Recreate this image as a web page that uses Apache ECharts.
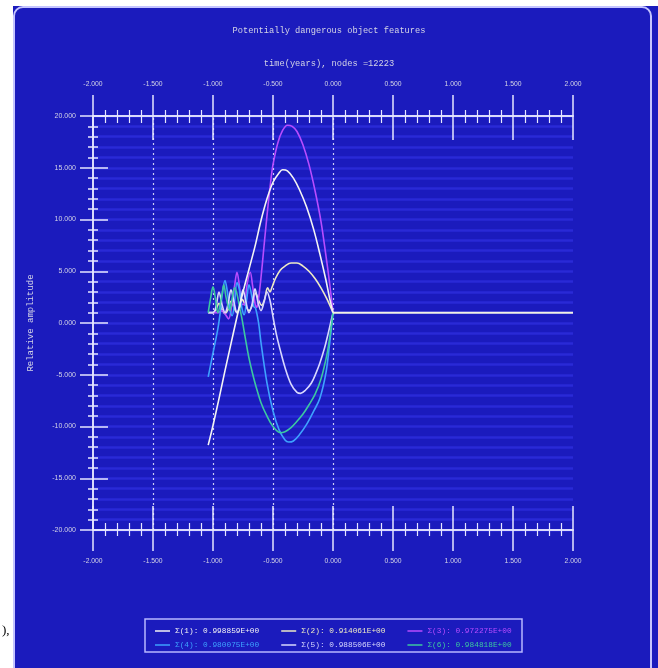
<!DOCTYPE html>
<html>
<head>
<meta charset="utf-8">
<script src="https://cdn.jsdelivr.net/npm/echarts@6/dist/echarts.min.js"></script>
<style>
  html, body { margin: 0; padding: 0; background: #ffffff; }
  #chart { width: 658px; height: 668px; }
</style>
</head>
<body>
<div id="chart"></div>
<script>
// legend labels, one per curve
const legendNames = [
  'Σ(1): 0.998859E+00',
  'Σ(2): 0.914061E+00',
  'Σ(3): 0.972275E+00',
  'Σ(4): 0.980075E+00',
  'Σ(5): 0.988506E+00',
  'Σ(6): 0.984818E+00',
];
const lineColors = ['#f4f4f4', '#eeeac6', '#b84cff', '#3ea2ff', '#d8d8ff', '#3cc8a0'];

// [time, amplitude]
const sigma1 = [[-1.04,-11.8],[-1.0,-9.9],[-0.95,-7.3],[-0.9,-4.6],[-0.85,-2.0],[-0.8,0.6],[-0.75,3.0],[-0.7,5.2],[-0.65,7.4],[-0.6,9.9],[-0.55,12.0],[-0.5,13.6],[-0.45,14.5],[-0.42,14.8],[-0.38,14.7],[-0.33,14.0],[-0.28,12.9],[-0.22,11.2],[-0.16,9.0],[-0.11,6.7],[-0.06,4.2],[-0.03,2.5],[0,1.0]];
const sigma2 = [[-1.04,1.0],[-1.0,1.0],[-0.975,1.3],[-0.95,1.9],[-0.925,1.3],[-0.9,0.9],[-0.875,1.3],[-0.85,2.1],[-0.825,1.5],[-0.8,1.0],[-0.775,1.5],[-0.755,2.3],[-0.73,1.7],[-0.7,1.2],[-0.67,1.8],[-0.645,2.9],[-0.62,2.2],[-0.595,1.7],[-0.57,2.3],[-0.545,3.4],[-0.525,3.0],[-0.51,3.4],[-0.48,4.3],[-0.44,5.1],[-0.4,5.5],[-0.35,5.8],[-0.3,5.8],[-0.25,5.5],[-0.2,5.0],[-0.15,4.3],[-0.1,3.4],[-0.05,2.3],[0,1.0]];
const sigma3 = [[-1.0,1.0],[-0.96,1.0],[-0.92,1.2],[-0.895,0.8],[-0.87,0.4],[-0.845,1.6],[-0.82,3.6],[-0.8,4.9],[-0.78,3.6],[-0.76,1.8],[-0.74,1.8],[-0.715,3.8],[-0.69,4.9],[-0.67,3.6],[-0.65,1.9],[-0.635,1.5],[-0.62,2.4],[-0.6,4.4],[-0.58,6.8],[-0.56,9.2],[-0.54,11.5],[-0.52,13.6],[-0.5,15.3],[-0.46,17.4],[-0.42,18.6],[-0.38,19.1],[-0.34,19.0],[-0.3,18.5],[-0.25,17.2],[-0.2,15.3],[-0.15,12.8],[-0.1,9.8],[-0.06,6.6],[-0.03,4.0],[0,1.0]];
const sigma4 = [[-1.04,-5.2],[-1.0,-2.9],[-0.96,-0.6],[-0.94,1.0],[-0.92,3.0],[-0.9,4.1],[-0.88,3.0],[-0.86,1.4],[-0.84,0.7],[-0.82,2.1],[-0.8,3.9],[-0.78,3.2],[-0.76,1.5],[-0.74,0.8],[-0.72,2.2],[-0.7,3.7],[-0.68,2.8],[-0.66,1.6],[-0.645,1.4],[-0.62,0.0],[-0.6,-1.9],[-0.55,-5.8],[-0.5,-8.5],[-0.45,-10.3],[-0.4,-11.3],[-0.37,-11.5],[-0.33,-11.4],[-0.28,-10.8],[-0.22,-9.8],[-0.16,-8.5],[-0.11,-7.3],[-0.06,-4.9],[-0.03,-2.2],[0,1.0]];
const sigma5 = [[-1.04,1.0],[-1.0,1.0],[-0.975,1.6],[-0.95,3.0],[-0.925,1.8],[-0.9,1.0],[-0.875,1.8],[-0.85,3.2],[-0.825,2.0],[-0.8,1.0],[-0.775,1.8],[-0.75,3.2],[-0.725,2.0],[-0.7,1.0],[-0.675,1.8],[-0.65,3.3],[-0.625,2.0],[-0.6,1.2],[-0.575,2.0],[-0.55,3.0],[-0.525,2.2],[-0.5,0.6],[-0.47,-1.2],[-0.44,-2.6],[-0.4,-4.3],[-0.35,-5.9],[-0.3,-6.7],[-0.27,-6.8],[-0.23,-6.5],[-0.18,-5.8],[-0.14,-4.8],[-0.11,-3.9],[-0.07,-2.4],[-0.04,-1.0],[0,1.0]];
const sigma6 = [[-1.04,1.0],[-1.02,2.4],[-1.0,3.5],[-0.98,2.4],[-0.96,1.0],[-0.93,2.4],[-0.91,3.7],[-0.89,2.4],[-0.86,1.2],[-0.84,2.4],[-0.82,3.4],[-0.8,2.8],[-0.78,1.6],[-0.76,0.5],[-0.73,-1.5],[-0.7,-3.4],[-0.67,-4.9],[-0.64,-6.2],[-0.6,-7.7],[-0.55,-9.0],[-0.5,-10.0],[-0.44,-10.6],[-0.4,-10.5],[-0.35,-10.1],[-0.3,-9.5],[-0.25,-8.8],[-0.2,-7.9],[-0.15,-6.9],[-0.1,-5.4],[-0.05,-3.0],[-0.02,-0.8],[0,1.0]];
// all curves settle on 1 after t = 0
const tail = [[0,1.0],[2,1.0]];
// dotted time markers only drawn over the left half
const gridTimes = [-1.5, -1.0, -0.5, 0];

const curves = [sigma1, sigma2, sigma3, sigma4, sigma5, sigma6];

const axisColor = '#e6e6ff';
const labelColor = '#d4d4e6';
const stripeColor = '#2a2ad6';
const monoFont = 'Liberation Mono, DejaVu Sans Mono, monospace';
const narrowFont = 'Liberation Sans Narrow, Liberation Sans, sans-serif';

const chart = echarts.init(document.getElementById('chart'));

const makeX = (pos, inside, labels) => ({
  type: 'value', min: -2, max: 2, interval: 0.5, position: pos,
  axisLine: { onZero: false, lineStyle: { color: axisColor, width: 1.5 } },
  axisTick: { inside: inside, length: inside ? 24 : 21, lineStyle: { color: axisColor, width: 1.5 } },
  minorTick: { show: true, splitNumber: 5, length: inside ? 7 : 6, lineStyle: { color: axisColor, width: 1.2 } },
  axisLabel: {
    show: labels, margin: 28, color: labelColor, fontSize: 6.8, fontFamily: narrowFont,
    formatter: (v) => v.toFixed(3),
  },
  splitLine: { show: false },
});

const makeY = (inside, labels) => ({
  type: 'value', min: -20, max: 20, interval: 5, position: 'left',
  axisLine: { onZero: false, lineStyle: { color: axisColor, width: 1.5 } },
  axisTick: { inside: inside, length: inside ? 15 : 13, lineStyle: { color: axisColor, width: 1.5 } },
  minorTick: { show: true, splitNumber: 5, length: 5, lineStyle: { color: axisColor, width: 1.5 } },
  axisLabel: {
    show: labels, margin: 17, color: labelColor, fontSize: 7, fontFamily: narrowFont,
    formatter: (v) => v.toFixed(3),
  },
  splitLine: { show: labels, lineStyle: { color: stripeColor, width: 2.5 } },
  minorSplitLine: { show: labels, lineStyle: { color: stripeColor, width: 2.5 } },
  name: labels ? 'Relative amplitude' : '',
  nameLocation: 'middle', nameGap: 58,
  nameTextStyle: { color: labelColor, fontSize: 9, fontFamily: monoFont },
});

const legendItem = (i) => ({
  name: legendNames[i],
  textStyle: { color: lineColors[i] },
});

const option = {
  animation: false,
  backgroundColor: '#1b1bbd',
  title: [
    {
      text: 'Potentially dangerous object features',
      left: 'center', top: 21,
      textStyle: { color: labelColor, fontSize: 8.7, fontWeight: 'normal', fontFamily: monoFont },
    },
    {
      text: 'time(years), nodes =12223',
      left: 'center', top: 54,
      textStyle: { color: labelColor, fontSize: 8.7, fontWeight: 'normal', fontFamily: monoFont },
    },
  ],
  grid: { left: 93, right: 85, top: 116, bottom: 138 },
  xAxis: [makeX('top', false, true), makeX('top', true, false), makeX('bottom', false, true), makeX('bottom', true, false)],
  yAxis: [makeY(false, true), makeY(true, false)],
  legend: [
    {
      left: 155, top: 627, padding: 0, itemGap: 22, itemWidth: 15, itemHeight: 1.5, icon: 'rect',
      textStyle: { fontSize: 7.8, fontFamily: monoFont },
      data: [0, 1, 2].map(legendItem),
    },
    {
      left: 155, top: 641, padding: 0, itemGap: 22, itemWidth: 15, itemHeight: 1.5, icon: 'rect',
      textStyle: { fontSize: 7.8, fontFamily: monoFont },
      data: [3, 4, 5].map(legendItem),
    },
  ],
  graphic: [
    { type: 'rect', shape: { x: 0, y: 0, width: 13, height: 668 }, style: { fill: '#ffffff' }, z: 100 },
    { type: 'rect', shape: { x: 0, y: 0, width: 658, height: 6 }, style: { fill: '#ffffff' }, z: 100 },
    { type: 'rect', shape: { x: 14, y: 7, width: 637, height: 670, r: [9, 9, 0, 0] }, style: { fill: 'none', stroke: '#c4c4ff', lineWidth: 2 }, z: 100 },
    { type: 'rect', shape: { x: 145, y: 619, width: 377, height: 33 }, style: { fill: 'none', stroke: '#b8b8ff', lineWidth: 1.5 }, z: 100 },
    { type: 'text', left: 2, top: 624, style: { text: '),', fill: '#000000', font: '13px Liberation Serif' }, z: 101 },
  ],
  series: curves.map((d, i) => ({
    name: legendNames[i],
    type: 'line',
    data: d,
    smooth: 0.35,
    showSymbol: false,
    color: lineColors[i],
    lineStyle: { width: 1.6 },
    z: i === 0 ? 4 : 3,
  })).concat([{
    type: 'line',
    data: tail,
    showSymbol: false,
    color: '#f2f2e4',
    lineStyle: { width: 2 },
    z: 5,
    markLine: {
      silent: true,
      symbol: 'none',
      label: { show: false },
      lineStyle: { color: 'rgba(235,235,255,0.85)', type: [2, 3], width: 1.2 },
      data: gridTimes.map((t) => ({ xAxis: t })),
      z: 1,
    },
  }]),
};

chart.setOption(option);
</script>
</body>
</html>
